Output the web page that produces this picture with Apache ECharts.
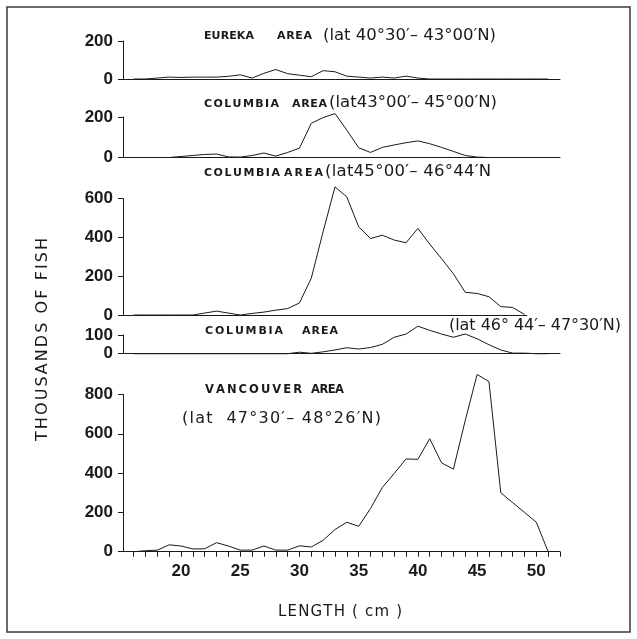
<!DOCTYPE html>
<html><head><meta charset="utf-8">
<script src="https://cdn.jsdelivr.net/npm/echarts@6/dist/echarts.min.js"></script>
<style>html,body{margin:0;padding:0;background:#fff}#c{width:637px;height:639px}</style>
</head><body><div id="c"></div>
<script>
// ---- data ----
const lengths   = [16,17,18,19,20,21,22,23,24,25,26,27,28,29,30,31,32,33,34,35,36,37,38,39,40,41,42,43,44,45,46,47,48,49,50,51];
const eureka    = [0,0,5,10,8,10,10,10,14,22,5,30,50,28,20,12,44,38,15,10,5,10,5,15,5,0,0,0,0,0,0,0,0,0,0,0];
const columbiaA = [0,0,0,0,5,10,15,17,3,2,10,22,7,25,46,169,197,217,135,48,25,50,62,73,82,68,50,30,10,2,0,0,0,0,0,0];
const columbiaB = [0,0,0,0,0,0,10,20,10,0,8,15,25,33,62,190,430,660,608,454,394,411,386,372,446,365,290,212,117,111,94,43,39,3];
const columbiaC = [0,0,0,0,0,0,0,0,0,0,0,0,0,0,8,2,10,20,32,25,33,50,88,105,147,125,105,88,105,80,48,20,3,3,0,0];
const vancouver = [0,5,8,35,29,14,15,46,29,8,8,29,8,8,30,24,58,113,150,129,220,327,398,472,470,575,452,420,668,902,866,300,250,200,150,0];
const xTickValues  = [16,17,18,19,20,21,22,23,24,25,26,27,28,29,30,31,32,33,34,35,36,37,38,39,40,41,42,43,44,45,46,47,48,49,50,51,52];
const xLabelValues = [20,25,30,35,40,45,50];
const panelSeries = [eureka, columbiaA, columbiaB, columbiaC, vancouver];
const panelMax      = [200, 200, 600, 100, 800];
const panelInterval = [200, 200, 200, 100, 200];
const panelXMax     = [52, 52, 49.2, 52, 52];

// ---- layout ----
const X_MIN = 15.1, X_MAX = 52, GRID_LEFT = 123, GRID_WIDTH = 437;
const gridTops    = [41, 117, 198.5, 335, 394.5];
const gridHeights = [38, 40.5, 116.5, 18.7, 157.2];
const INK = '#1a1a1a';
const TICK_FONT = '"Liberation Sans", Arial, sans-serif';

const chart = echarts.init(document.getElementById('c'), null, {renderer:'canvas'});

const grids = [], xAxes = [], yAxes = [], series = [];
panelSeries.forEach((vals, i) => {
  const w = GRID_WIDTH * (panelXMax[i] - X_MIN) / (X_MAX - X_MIN);
  grids.push({left:GRID_LEFT, width:w, top:gridTops[i], height:gridHeights[i]});
  const bottom = (i === 4);
  xAxes.push({
    gridIndex:i, type:'value', min:X_MIN, max:panelXMax[i],
    axisLine:{show:true, onZero:false, lineStyle:{color:INK, width:1}},
    axisTick:{show:bottom, customValues:xTickValues, length:5, lineStyle:{color:INK, width:1}},
    axisLabel:{show:bottom, customValues:xLabelValues, margin:11, color:INK, fontSize:17, fontWeight:'bold', fontFamily:TICK_FONT},
    splitLine:{show:false}
  });
  yAxes.push({
    gridIndex:i, type:'value', min:0, max:panelMax[i], interval:panelInterval[i],
    axisLine:{show:true, lineStyle:{color:INK, width:1}},
    axisTick:{show:true, length:5, lineStyle:{color:INK, width:1}},
    axisLabel:{margin:10, color:INK, fontSize:17, fontWeight:'bold', fontFamily:TICK_FONT},
    splitLine:{show:false}
  });
  series.push({
    type:'line', xAxisIndex:i, yAxisIndex:i, symbol:'none', clip:false,
    lineStyle:{color:INK, width:1}, animation:false,
    data: vals.map((v, j) => [lengths[j], v])
  });
});

// ---- spaced text helper ----
const mctx = document.createElement('canvas').getContext('2d');
function fitText(str, font, x0, x1, y, extra) {
  mctx.font = font;
  const chars = Array.from(str);
  const widths = chars.map(c => mctx.measureText(c).width);
  const total = widths.reduce((a, b) => a + b, 0);
  const sp = chars.length > 1 ? ((x1 - x0) - total) / (chars.length - 1) : 0;
  let x = 0;
  const children = chars.map((c, k) => {
    const el = {type:'text', x:x, y:0, style:{text:c, font:font, fill:INK, verticalAlign:'middle', align:'left'}};
    x += widths[k] + sp;
    return el;
  });
  return Object.assign({type:'group', x:x0, y:y, children:children}, extra || {});
}
const B = (s) => 'bold ' + s + 'px "DejaVu Sans"';
const L = (s) => 'normal ' + s + 'px "DejaVu Sans"';

const graphics = [
  {type:'rect', shape:{x:7, y:7, width:623, height:625}, style:{fill:'none', stroke:'#3a3a3a', lineWidth:1.5}, silent:true},
  // panel 1
  fitText('EUREKA', B(11), 204, 254, 36),
  fitText('AREA', B(11), 277, 312, 36),
  fitText('(lat 40°30′– 43°00′N)', L(16.5), 323, 496, 36),
  // panel 2
  fitText('COLUMBIA', B(11), 204, 279, 104),
  fitText('AREA', B(11), 292, 327, 104),
  fitText('(lat43°00′– 45°00′N)', L(16.5), 329, 497, 103),
  // panel 3
  fitText('COLUMBIA', B(11), 204, 280, 173),
  fitText('AREA', B(11), 284, 323, 173),
  fitText('(lat45°00′– 46°44′N', L(16.5), 325, 491, 172),
  // panel 4
  fitText('COLUMBIA', B(11), 205, 283, 331),
  fitText('AREA', B(11), 302, 338, 331),
  fitText('(lat 46° 44′– 47°30′N)', L(16), 449, 621, 326),
  // panel 5
  fitText('VANCOUVER', B(11.5), 205, 302, 390),
  fitText('AREA', B(11.5), 311, 344, 390),
  fitText('(lat  47°30′– 48°26′N)', L(16), 182, 381, 419),
  // axis titles
  fitText('THOUSANDS OF FISH', L(16), 0, 203, 0, {x:43, y:441, rotation:Math.PI/2}),
  fitText('LENGTH ( cm )', L(15), 278, 402, 612)
];

chart.setOption({
  backgroundColor:'#fff',
  animation:false,
  grid:grids, xAxis:xAxes, yAxis:yAxes, series:series,
  graphic:graphics
});
</script></body></html>
